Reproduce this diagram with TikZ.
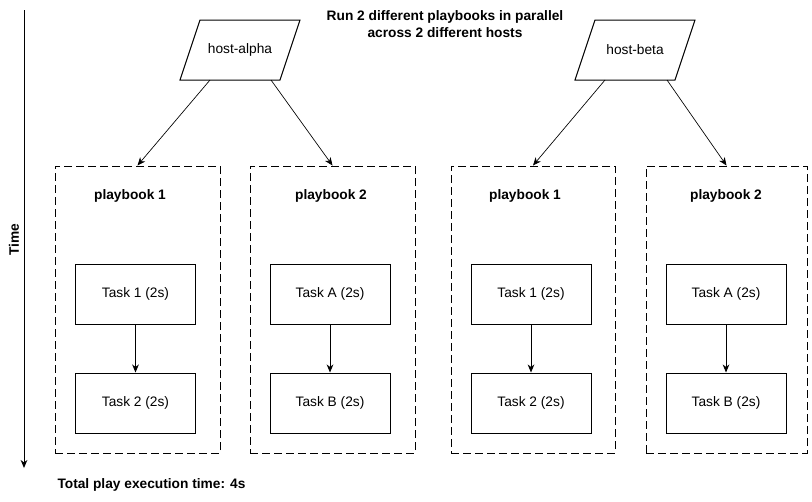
\documentclass[tikz,border=0pt]{standalone}
\usepackage{fontspec}
\setmainfont{Liberation Sans}
\usetikzlibrary{arrows.meta,calc}
\begin{document}
\begin{tikzpicture}[x=0.75pt,y=-0.75pt, line width=0.75pt,
  every node/.style={font=\fontsize{10.3}{12.4}\selectfont},
  taskbox/.style={draw, minimum width=90pt, minimum height=45pt, inner sep=0pt},
  pbbox/.style={draw, dash pattern=on 6pt off 3pt, minimum height=215.25pt, inner sep=0pt},
  hostnode/.style={minimum width=75pt, minimum height=45pt, inner sep=0pt},
  lbl/.style={font=\fontsize{10.3}{12.4}\selectfont\bfseries, inner sep=0pt},
  arr/.style={-{Stealth[length=6pt,width=5pt,inset=1.8pt]}}]
\useasboundingbox (0,0) rectangle (812,501);

% time axis
\coordinate (t0) at (24,10);
\coordinate (t1) at (24,468);
\draw[arr] (t0) -- (t1);
\node[lbl, rotate=90] (time) at (14,240) {Time};

% title
\node[lbl, align=center] (title) at (445,24) {Run 2 different playbooks in parallel\\across 2 different hosts};

% hosts
\node[hostnode] (ha) at (240,50) {host-alpha};
\draw ($(ha.center)+(-60,30)$) -- ($(ha.center)+(40,30)$) -- ($(ha.center)+(60,-30)$) -- ($(ha.center)+(-40,-30)$) -- cycle;
\node[hostnode] (hb) at (635,50) {host-beta};
\draw ($(hb.center)+(-60,30)$) -- ($(hb.center)+(40,30)$) -- ($(hb.center)+(60,-30)$) -- ($(hb.center)+(-40,-30)$) -- cycle;

% playbook containers
\node[pbbox, minimum width=123.75pt] (pb1) at (137.5,309.5) {};
\node[pbbox, minimum width=123.75pt] (pb2) at (332.5,309.5) {};
\node[pbbox, minimum width=123pt] (pb3) at (533,309.5) {};
\node[pbbox, minimum width=120.75pt] (pb4) at (726.5,309.5) {};

\node[lbl] (l1) at (130,196) {playbook 1};
\node[lbl] (l2) at (331,196) {playbook 2};
\node[lbl] (l3) at (525,196) {playbook 1};
\node[lbl] (l4) at (726,196) {playbook 2};

% tasks
\node[taskbox] (a1) at (135.5,294) {Task 1 (2s)};
\node[taskbox] (a2) at (135.5,403) {Task 2 (2s)};
\node[taskbox] (b1) at (330,294) {Task A (2s)};
\node[taskbox] (b2) at (330,403) {Task B (2s)};
\node[taskbox] (c1) at (531,294) {Task 1 (2s)};
\node[taskbox] (c2) at (531,403) {Task 2 (2s)};
\node[taskbox] (d1) at (726,294) {Task A (2s)};
\node[taskbox] (d2) at (726,403) {Task B (2s)};

\draw[arr] (a1) -- (a2);
\draw[arr] (b1) -- (b2);
\draw[arr] (c1) -- (c2);
\draw[arr] (d1) -- (d2);

% host arrows
\draw[arr, line width=0.5pt] ($(ha.center)+(-30,30)$) -- (pb1.north);
\draw[arr, line width=0.5pt] ($(ha.center)+(31,30)$) -- (pb2.north);
\draw[arr, line width=0.5pt] ($(hb.center)+(-30,30)$) -- (pb3.north);
\draw[arr, line width=0.5pt] ($(hb.center)+(32,30)$) -- (pb4.north);

% footer
\node[lbl, anchor=west] (total) at (57,485) {Total play execution time: 4s};
\end{tikzpicture}
\end{document}
